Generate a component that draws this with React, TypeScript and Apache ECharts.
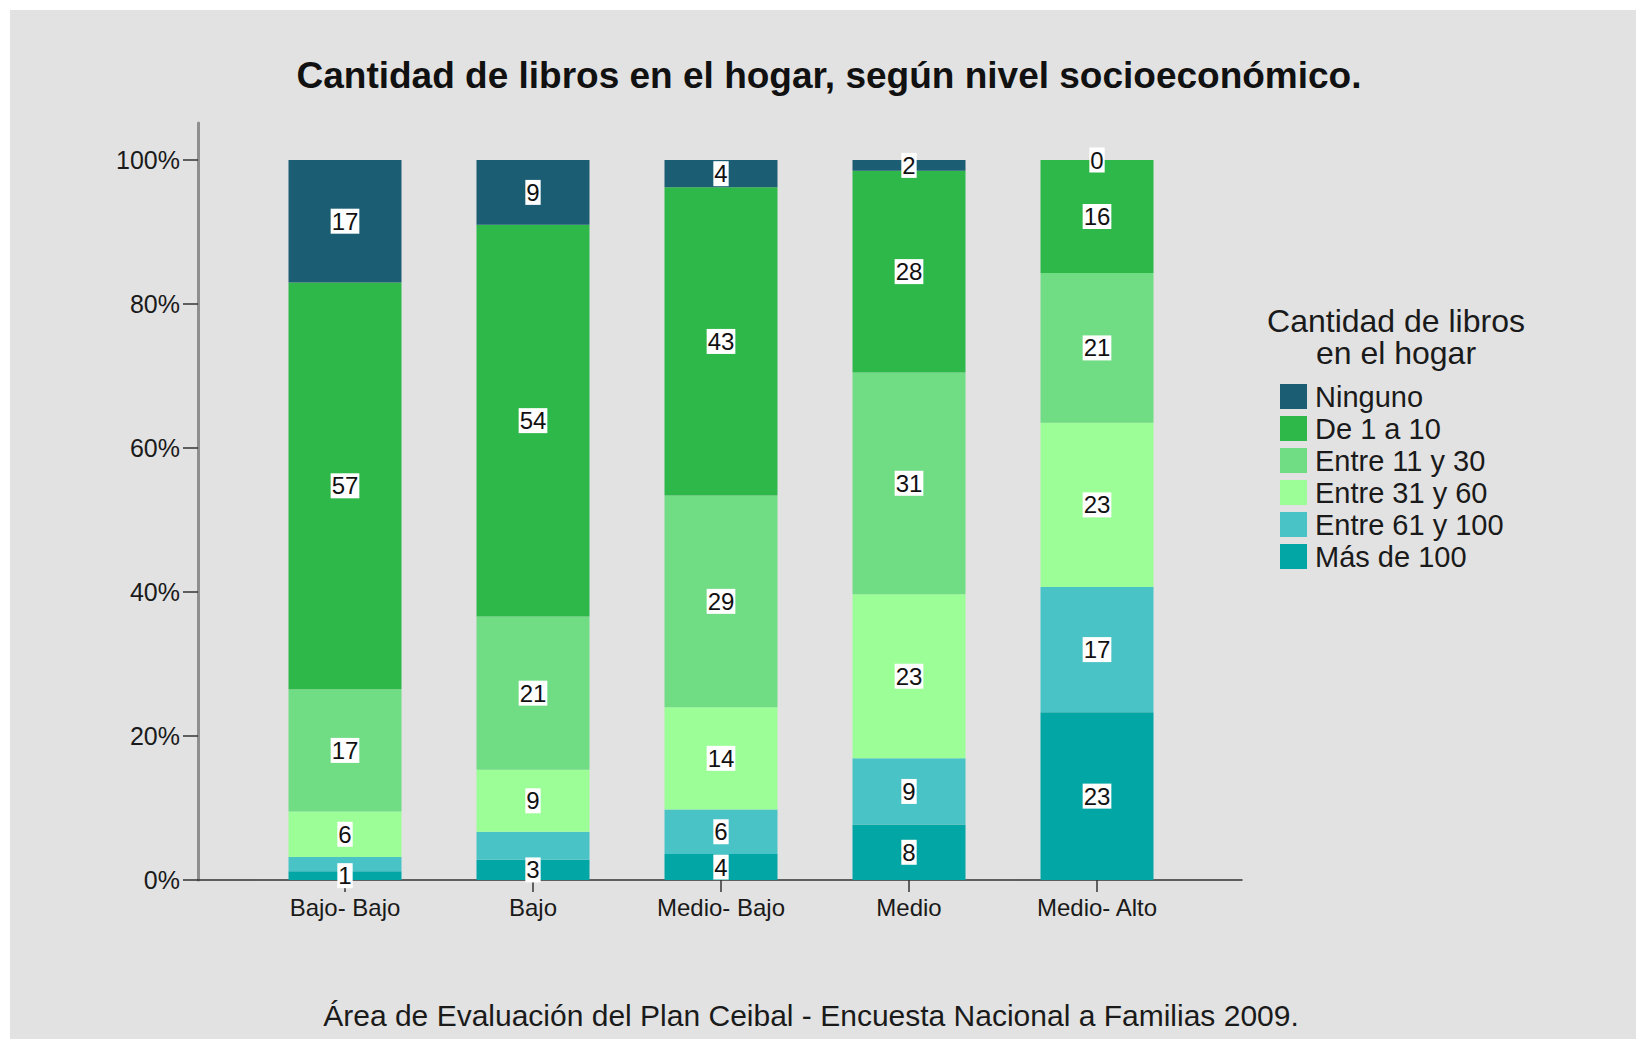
import React, { useEffect, useRef } from "react";
import * as echarts from "echarts";

const categories = ["Bajo- Bajo", "Bajo", "Medio- Bajo", "Medio", "Medio- Alto"];

// stacked bottom -> top, values in %
const masDe100 = [1.2, 2.8, 3.6, 7.7, 23.3];
const entre61y100 = [2.0, 3.9, 6.2, 9.2, 17.4];
const entre31y60 = [6.3, 8.6, 14.2, 22.8, 22.8];
const entre11y30 = [17.0, 21.3, 29.4, 30.8, 20.8];
const de1a10 = [56.5, 54.4, 42.8, 28.0, 15.7];
const ninguno = [17.0, 9.0, 3.8, 1.5, 0];

const seriesNames = ["Más de 100", "Entre 61 y 100", "Entre 31 y 60", "Entre 11 y 30", "De 1 a 10", "Ninguno"];
const seriesValues = [masDe100, entre61y100, entre31y60, entre11y30, de1a10, ninguno];
const seriesColors = ["#02a6a5", "#49c3c6", "#9cfe96", "#70dc84", "#2fb84a", "#1b5d72"];
const legendOrder = ["Ninguno", "De 1 a 10", "Entre 11 y 30", "Entre 31 y 60", "Entre 61 y 100", "Más de 100"];
const hiddenLabels = [["Entre 61 y 100", "Bajo- Bajo"], ["Entre 61 y 100", "Bajo"]];

const yTicks = [0, 20, 40, 60, 80, 100];

const titleText = "Cantidad de libros en el hogar, según nivel socioeconómico.";
const legendTitleLines = ["Cantidad de libros", "en el hogar"];
const footerText = "Área de Evaluación del Plan Ceibal - Encuesta Nacional a Familias 2009.";

const FONT = "'Liberation Sans', Arial, Helvetica, sans-serif";

export default function App() {
  const ref = useRef<HTMLDivElement>(null);

  useEffect(() => {
    if (!ref.current) return;
    const chart = echarts.init(ref.current, undefined, { renderer: "svg" });

    const series = seriesNames.map((name, si) => ({
      name,
      type: "bar",
      stack: "total",
      xAxisIndex: 1,
      yAxisIndex: 1,
      barWidth: 113,
      itemStyle: { color: seriesColors[si] },
      label: {
        show: true,
        position: "inside",
        formatter: (p: any) => String(Math.round(p.value)),
        fontFamily: FONT,
        fontSize: 24,
        color: "#111",
        backgroundColor: "#ffffff",
        padding: [1, 1, 0, 1],
        lineHeight: 24,
      },
      data: seriesValues[si].map((v, ci) => {
        const hide = hiddenLabels.some((h) => h[0] === name && h[1] === categories[ci]);
        return hide ? { value: v, label: { show: false } } : v;
      }),
    }));

    chart.setOption({
      animation: false,
      backgroundColor: "#e2e2e2",
      textStyle: { fontFamily: FONT },
      grid: [
        { left: 188, top: 113, width: 1044, height: 757 },
        { left: 241, top: 150, width: 940, height: 720 },
      ],
      xAxis: [
        {
          gridIndex: 0,
          type: "value",
          min: 0,
          max: 1,
          axisLine: { show: true, lineStyle: { color: "#333", width: 1.5 } },
          axisTick: { show: false },
          axisLabel: { show: false },
          splitLine: { show: false },
        },
        {
          gridIndex: 1,
          type: "category",
          data: categories,
          axisLine: { show: false },
          axisTick: { show: true, alignWithLabel: true, length: 12, lineStyle: { color: "#333", width: 1.5 } },
          axisLabel: { fontFamily: FONT, fontSize: 24, color: "#1a1a1a", margin: 15 },
          splitLine: { show: false },
        },
      ],
      yAxis: [
        {
          gridIndex: 0,
          type: "value",
          min: 0,
          max: 1,
          axisLine: { show: true, lineStyle: { color: "#8f8f8f", width: 3 } },
          axisTick: { show: false },
          axisLabel: { show: false },
          splitLine: { show: false },
        },
        {
          gridIndex: 1,
          type: "value",
          min: yTicks[0],
          max: yTicks[yTicks.length - 1],
          interval: 20,
          offset: 53,
          axisLine: { show: false },
          axisTick: { show: true, length: 15, lineStyle: { color: "#333", width: 1.5 } },
          axisLabel: { formatter: "{value}%", fontFamily: FONT, fontSize: 25, color: "#1a1a1a", margin: 18 },
          splitLine: { show: false },
        },
      ],
      legend: {
        orient: "vertical",
        left: 1270,
        top: 372,
        padding: 0,
        itemWidth: 27,
        itemHeight: 25,
        itemGap: 3,
        icon: "rect",
        data: legendOrder,
        textStyle: { fontFamily: FONT, fontSize: 29, color: "#1a1a1a", padding: [0, 0, 0, 3] },
      },
      graphic: [
        {
          type: "text",
          x: 819,
          y: 65,
          silent: true,
          style: {
            text: titleText,
            fontFamily: FONT,
            fontSize: 37,
            fontWeight: "bold",
            fill: "#111",
            align: "center",
            verticalAlign: "middle",
          },
        },
        ...legendTitleLines.map((line, i) => ({
          type: "text",
          x: 1386,
          y: 310.5 + i * 32.5,
          silent: true,
          style: {
            text: line,
            fontFamily: FONT,
            fontSize: 32,
            fill: "#1a1a1a",
            align: "center",
            verticalAlign: "middle",
          },
        })),
        {
          type: "text",
          x: 801,
          y: 1005,
          silent: true,
          style: {
            text: footerText,
            fontFamily: FONT,
            fontSize: 30,
            fill: "#1a1a1a",
            align: "center",
            verticalAlign: "middle",
          },
        },
      ],
      series,
    });

    return () => chart.dispose();
  }, []);

  return (
    <div style={{ position: "fixed", left: 0, top: 0, width: 1636, height: 1039, background: "#ffffff" }}>
      <div ref={ref} style={{ position: "absolute", left: 10, top: 10, width: 1626, height: 1029 }} />
    </div>
  );
}
